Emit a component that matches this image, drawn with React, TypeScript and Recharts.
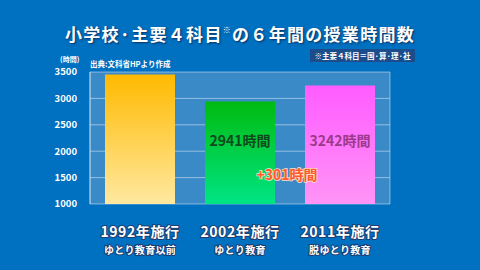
import { Bar, BarChart, CartesianGrid, Cell, ReferenceDot, XAxis, YAxis } from 'recharts';

const eras = ['1992年施行', '2002年施行', '2011年施行'];
const eraNotes = ['ゆとり教育以前', 'ゆとり教育', '脱ゆとり教育'];
const hours = [3452, 2941, 3242];
const yTicks = [1000, 1500, 2000, 2500, 3000, 3500];
const barGradients = [
  ['#ffba00', '#ffe8a0'],
  ['#00bb10', '#00e584'],
  ['#ff5cff', '#ff94f6'],
];

const FONT = '"Noto Sans CJK JP", "Noto Sans", sans-serif';
const BG = '#0070c0';

const data = eras.map((era, i) => ({ era, note: eraNotes[i], hours: hours[i] }));

function EraTick({ x, y, payload, index }: any) {
  return (
    <g fontFamily={FONT} fontWeight={700} fill="#fff" textAnchor="middle">
      <text x={x} y={y + 25} fontSize={14} letterSpacing={0.6} stroke="#1b3f73" strokeWidth={2} paintOrder="stroke">
        {payload.value}
      </text>
      <text x={x} y={y + 42} fontSize={10} letterSpacing={0.3} stroke="#1b3f73" strokeWidth={2} paintOrder="stroke">
        {eraNotes[index]}
      </text>
    </g>
  );
}

export default function App() {
  return (
    <div style={{ position: 'absolute', left: 0, top: 0, width: 480, height: 270, background: BG, overflow: 'hidden' }}>
      <BarChart width={480} height={270} data={data} margin={{ top: 72, right: 90, bottom: 0, left: 30 }}>
        <defs>
          {barGradients.map(([top, bottom], i) => (
            <linearGradient key={i} id={`bar${i}`} x1="0" y1="0" x2="0" y2="1">
              <stop offset="0%" stopColor={top} />
              <stop offset="100%" stopColor={bottom} />
            </linearGradient>
          ))}
        </defs>
        <CartesianGrid
          fill="#3b8ac8"
          stroke="rgba(255,255,255,0.45)"
          verticalPoints={[90, 390]}
        />
        <XAxis dataKey="era" height={66} axisLine={false} tickLine={false} tick={<EraTick />} />
        <YAxis
          domain={[1000, 3500]}
          ticks={yTicks}
          width={60}
          axisLine={{ stroke: 'rgba(255,255,255,0.5)' }}
          tickLine={false}
          tickMargin={7}
          tick={{ fill: '#fff', fontSize: 9.5, fontWeight: 700, fontFamily: FONT }}
        />
        <Bar dataKey="hours" barSize={70} isAnimationActive={false}>
          {data.map((d, i) => (
            <Cell key={d.era} fill={`url(#bar${i})`} />
          ))}
        </Bar>
        <ReferenceDot
          x={eras[1]}
          y={2190}
          r={0}
          label={{ value: `${hours[1]}時間`, fill: '#0d4a1c', fontSize: 14, fontWeight: 700, fontFamily: FONT }}
        />
        <ReferenceDot
          x={eras[2]}
          y={2190}
          r={0}
          label={{ value: `${hours[2]}時間`, fill: '#9b3a8c', fontSize: 14, fontWeight: 700, fontFamily: FONT }}
        />
        <ReferenceDot
          x={eras[2]}
          y={1550}
          r={0}
          label={{
            value: `+${hours[2] - hours[1]}時間`,
            fill: '#ff5a28',
            fontSize: 14,
            fontWeight: 700,
            fontFamily: FONT,
            stroke: '#ffe0d0',
            strokeWidth: 1.5,
            paintOrder: 'stroke',
            dx: -53,
          }}
        />
      </BarChart>
      <div
        style={{
          position: 'absolute',
          left: 0,
          top: 21,
          width: 480,
          textAlign: 'center',
          color: '#fff',
          fontFamily: FONT,
          fontWeight: 700,
          fontSize: 17,
          letterSpacing: 1.3,
          textShadow: '1px 1px 2px #0b2f5e',
        }}
      >
        小学校·主要４科目<sup style={{ fontSize: 8, verticalAlign: 8 }}>※</sup>の６年間の授業時間数
      </div>
      <div
        style={{
          position: 'absolute',
          left: 310,
          top: 49,
          width: 105,
          height: 13,
          background: '#1b4d8c',
          color: '#fff',
          fontFamily: FONT,
          fontWeight: 700,
          fontSize: 7.5,
          lineHeight: '13px',
          textAlign: 'center',
        }}
      >
        ※主要４科目＝国·算·理·社
      </div>
      <div style={{ position: 'absolute', left: 60, top: 54, color: '#fff', fontFamily: FONT, fontWeight: 700, fontSize: 7 }}>
        (時間)
      </div>
      <div style={{ position: 'absolute', left: 90, top: 58, color: '#fff', fontFamily: FONT, fontWeight: 700, fontSize: 7.5 }}>
        出典:文科省HPより作成
      </div>
    </div>
  );
}
